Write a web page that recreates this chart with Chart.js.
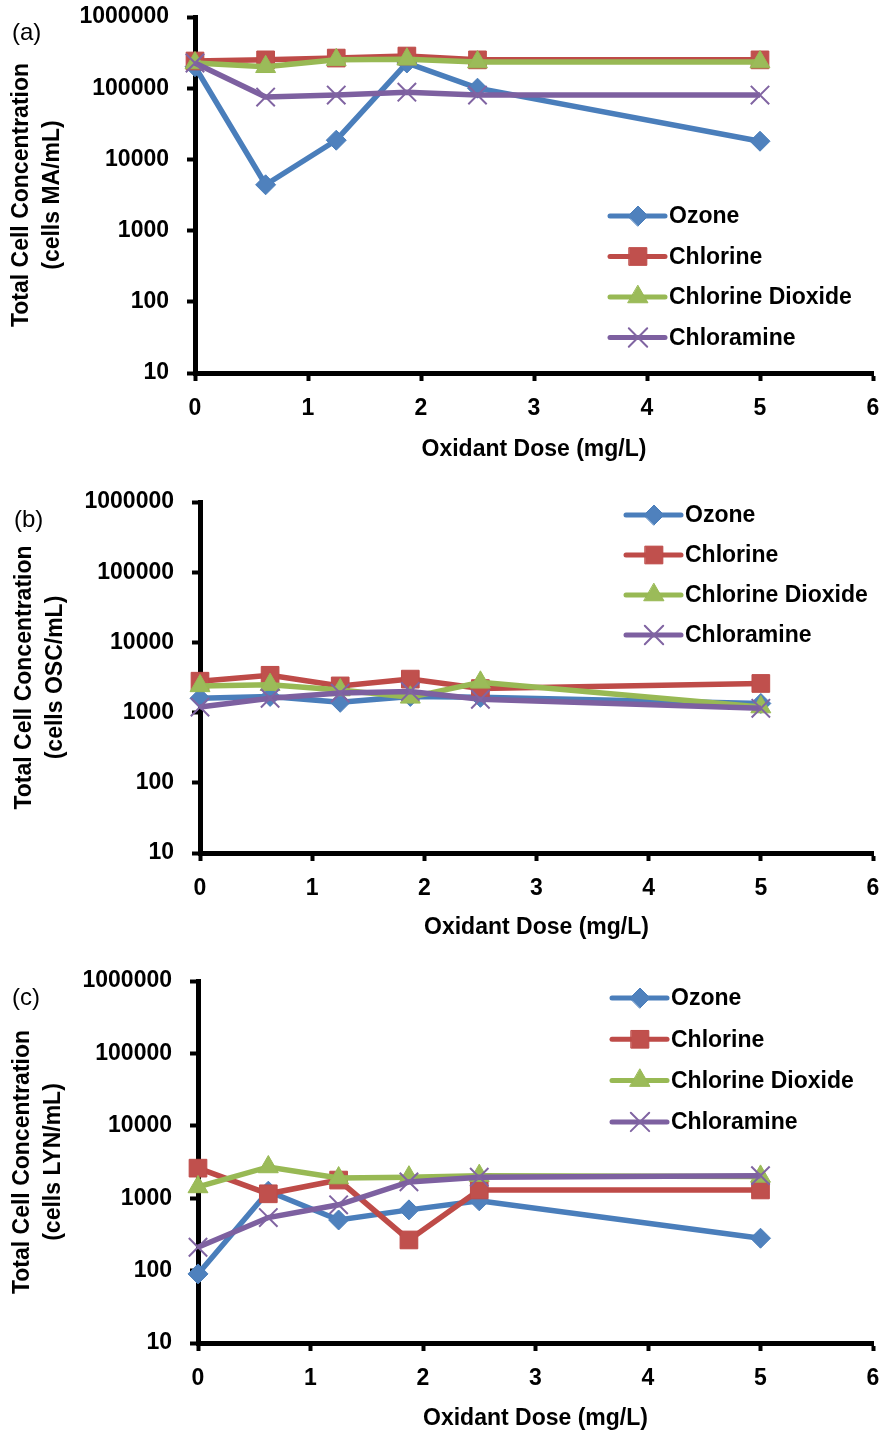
<!DOCTYPE html>
<html>
<head>
<meta charset="utf-8">
<script src="https://cdn.jsdelivr.net/npm/chart.js@4.4.1/dist/chart.umd.min.js"></script>
<style>
  body { margin: 0; background: #fff; }
  #wrap { position: relative; width: 882px; height: 1435px; }
  canvas { position: absolute; left: 0; }
  .tag { position: absolute; font: 24px "Liberation Sans", Arial, sans-serif; line-height: 24px; color: #000; }
</style>
</head>
<body>
<div id="wrap">
  <canvas id="chartA" width="882" height="463" style="top:0px"></canvas>
  <canvas id="chartB" width="882" height="471" style="top:470px"></canvas>
  <canvas id="chartC" width="882" height="494" style="top:941px"></canvas>
  <div class="tag" style="left:12px;top:20px">(a)</div>
  <div class="tag" style="left:14px;top:507px">(b)</div>
  <div class="tag" style="left:12px;top:985px">(c)</div>
</div>
<script>
// oxidant doses (mg/L)
const doses = [0, 0.625, 1.25, 1.875, 2.5, 5];
const seriesNames = ['Ozone', 'Chlorine', 'Chlorine Dioxide', 'Chloramine'];
const xTicks = [0, 1, 2, 3, 4, 5, 6];
const yTicks = [10, 100, 1000, 10000, 100000, 1000000];

// (a) MA
const maOzone      = [200000, 4400, 18600, 226000, 100000, 18000];
const maChlorine   = [241000, 250000, 265000, 283000, 250000, 250000];
const maDioxide    = [226000, 200000, 250000, 255000, 233000, 233000];
const maChloramine = [226000, 75000, 80000, 88000, 80000, 80000];

// (b) OSC
const oscOzone      = [1600, 1700, 1400, 1700, 1650, 1350];
const oscChlorine   = [2800, 3400, 2400, 3000, 2200, 2600];
const oscDioxide    = [2400, 2500, 2100, 1650, 2700, 1200];
const oscChloramine = [1200, 1600, 1900, 2000, 1550, 1150];

// (c) LYN
const lynOzone      = [90, 1250, 500, 690, 920, 280];
const lynChlorine   = [2600, 1150, 1780, 265, 1300, 1300];
const lynDioxide    = [1430, 2700, 1900, 1950, 2050, 2000];
const lynChloramine = [210, 540, 810, 1680, 1950, 2050];

const FONT = '"Liberation Sans", Arial, sans-serif';

const styles = [
  { line: '#4A7EBB', fill: '#4F81BD', point: 'rectRot', r: 10, bw: 1 },
  { line: '#BE4B48', fill: '#C0504D', point: 'rect', r: 12.5, bw: 1 },
  { line: '#98B954', fill: '#9BBB59', point: 'triangle', r: 11.5, bw: 1 },
  { line: '#7D60A0', fill: '#8064A2', point: 'crossRot', r: 13, bw: 2 }
];

// legend drawn inside the plot, like the original
const boxLegend = {
  id: 'boxLegend',
  afterDraw(chart, args, opts) {
    const ctx = chart.ctx;
    ctx.save();
    chart.data.datasets.forEach((ds, i) => {
      const y = opts.top + i * opts.gap;
      ctx.strokeStyle = ds.borderColor;
      ctx.lineWidth = 5;
      ctx.lineCap = 'round';
      ctx.beginPath();
      ctx.moveTo(opts.left, y);
      ctx.lineTo(opts.left + 55, y);
      ctx.stroke();
      ctx.fillStyle = ds.pointBackgroundColor;
      ctx.strokeStyle = ds.pointBorderColor;
      ctx.lineWidth = ds.pointBorderWidth;
      Chart.helpers.drawPoint(ctx, { pointStyle: ds.pointStyle, radius: ds.pointRadius, rotation: 0, borderWidth: ds.pointBorderWidth }, opts.left + 28, y);
      ctx.fillStyle = '#000';
      ctx.font = 'bold 23px ' + FONT;
      ctx.textBaseline = 'middle';
      ctx.textAlign = 'left';
      ctx.fillText(ds.label, opts.left + 59, y + 1);
    });
    ctx.restore();
  }
};

// keep the plot box where we put it: no extra room for tick labels
function noPad(s) {
  s.paddingTop = 0;
  s.paddingBottom = 0;
  s.paddingLeft = 0;
  s.paddingRight = 0;
}

function makeDatasets(lists) {
  return lists.map((vals, i) => ({
    label: seriesNames[i],
    data: doses.map((d, j) => ({ x: d, y: vals[j] })),
    borderColor: styles[i].line,
    backgroundColor: styles[i].fill,
    borderWidth: 5.5,
    pointStyle: styles[i].point,
    pointRadius: styles[i].r,
    pointHoverRadius: styles[i].r,
    pointBackgroundColor: styles[i].fill,
    pointBorderColor: styles[i].point === 'crossRot' ? styles[i].fill : styles[i].line,
    pointBorderWidth: styles[i].bw,
    tension: 0,
    clip: false,
    order: 4 - i
  }));
}

function makeChart(id, lists, unit, g) {
  const ctx = document.getElementById(id).getContext('2d');
  return new Chart(ctx, {
    type: 'line',
    data: { datasets: makeDatasets(lists) },
    plugins: [boxLegend],
    options: {
      responsive: false,
      animation: false,
      layout: { autoPadding: false, padding: { top: g.padTop, right: 9, bottom: g.padBottom, left: 0 } },
      plugins: {
        legend: { display: false },
        tooltip: { enabled: false },
        boxLegend: { left: g.legLeft, top: g.legTop, gap: g.legGap }
      },
      scales: {
        x: {
          type: 'linear',
          min: 0,
          max: 6,
          afterFit: s => { s.height = g.xHeight; noPad(s); },
          afterBuildTicks: s => { s.ticks = xTicks.map(v => ({ value: v })); },
          ticks: { color: '#000', font: { family: FONT, size: 23, weight: 'bold' }, padding: 14 },
          grid: { drawOnChartArea: false, tickLength: 8, tickWidth: 4, tickColor: '#000' },
          border: { color: '#000', width: 5 },
          title: { display: true, text: 'Oxidant Dose (mg/L)', color: '#000', font: { family: FONT, size: 23, weight: 'bold' }, padding: { top: 0, bottom: 0 } }
        },
        y: {
          type: 'logarithmic',
          min: 10,
          max: 1000000,
          afterFit: s => { s.width = g.yWidth; noPad(s); },
          afterBuildTicks: s => { s.ticks = yTicks.map(v => ({ value: v })); },
          ticks: { color: '#000', font: { family: FONT, size: 23, weight: 'bold' }, padding: 18, callback: v => String(v) },
          grid: { drawOnChartArea: false, tickLength: 8, tickWidth: 4, tickColor: '#000' },
          border: { color: '#000', width: 5 },
          title: {
            display: true,
            text: ['Total Cell Concentration', '(cells ' + unit + '/mL)'],
            color: '#000',
            font: { family: FONT, size: 23, weight: 'bold', lineHeight: 1.35 },
            padding: { top: g.titlePad, bottom: 0 }
          }
        }
      }
    }
  });
}

makeChart('chartA', [maOzone, maChlorine, maDioxide, maChloramine], 'MA',
  { padTop: 17, padBottom: 0, xHeight: 90, yWidth: 195, titlePad: 6, legLeft: 610, legTop: 216, legGap: 40.5 });
makeChart('chartB', [oscOzone, oscChlorine, oscDioxide, oscChloramine], 'OSC',
  { padTop: 32, padBottom: 0, xHeight: 88, yWidth: 200, titlePad: 9, legLeft: 626, legTop: 45, legGap: 40 });
makeChart('chartC', [lynOzone, lynChlorine, lynDioxide, lynChloramine], 'LYN',
  { padTop: 40, padBottom: 3, xHeight: 89, yWidth: 198, titlePad: 7, legLeft: 612, legTop: 57, legGap: 41.3 });
</script>
</body>
</html>
